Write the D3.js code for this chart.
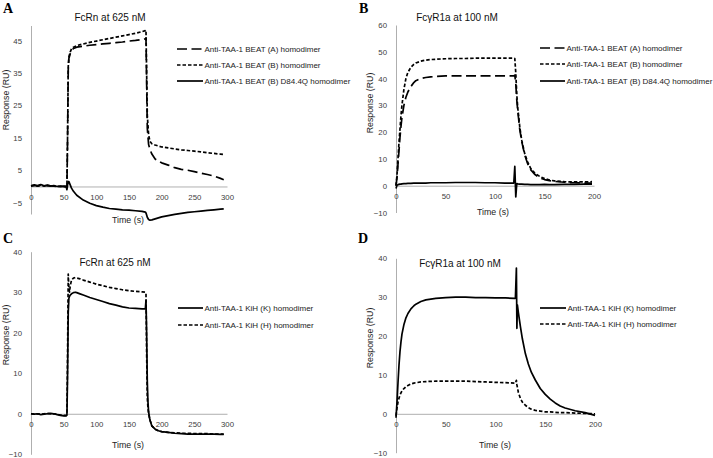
<!DOCTYPE html>
<html><head><meta charset="utf-8">
<script src="https://cdn.jsdelivr.net/npm/d3@7/dist/d3.min.js"></script>
<style>
body{margin:0;background:#fff;}
</style></head>
<body>
<svg id="chart" width="713" height="458"></svg>
<script>
// ---------- Panel A : FcRn at 625 nM (BEAT) ----------
const timeA = [0,5,10,15,20,25,30,35,40,45,50,54,55,56,57,58,60,62,65,70,80,90,100,110,120,130,140,150,160,170,175,176,177,178,180,182,185,190,195,200,210,220,230,240,250,260,270,280,290,295];
const beatA_FcRn = [0.2,0.3,0.1,0.4,0.1,0.3,0.2,0.1,0,0,0,0,0.3,15,36,39.5,41,42,42.6,43,43.3,43.6,43.8,44.0,44.2,44.4,44.6,44.9,45.1,45.4,45.6,45.8,32,18,13,11.5,10,8.5,7.8,7.3,6.6,5.8,5.3,5.0,4.6,4.1,3.7,3.2,2.5,2.1];
const beatB_FcRn = [0.2,0.3,0.1,0.4,0.1,0.3,0.2,0.1,0,0,0,0,0.3,16,37,40,41.5,42.5,43,43.5,44,44.5,44.9,45.3,45.7,46.1,46.5,46.9,47.3,47.8,48.1,48.3,35,22,16,14,13.2,12.8,12.5,12.2,11.9,11.6,11.3,11.1,10.9,10.7,10.4,10.2,10.0,9.9];
const beatBD_FcRn = [0.2,0.5,0.3,0.6,0.2,0.4,0.1,0.3,0,0,0,-0.2,-1,0.5,1.5,1.5,0.5,-0.5,-1.5,-2.7,-4.2,-5.2,-5.9,-6.4,-6.8,-7.0,-7.2,-7.3,-7.5,-7.7,-7.9,-8.2,-8.8,-9.5,-10.2,-10.4,-10.3,-10.0,-9.7,-9.4,-9.0,-8.6,-8.3,-8.0,-7.8,-7.6,-7.4,-7.2,-7.0,-6.9];
const yTicksA = [-5,5,15,25,35,45];
const xTicksA = [0,50,100,150,200,250,300];
const legendA = ["Anti-TAA-1 BEAT (A) homodimer","Anti-TAA-1 BEAT (B) homodimer","Anti-TAA-1 BEAT (B) D84.4Q homodimer"];

// ---------- Panel B : FcγR1a at 100 nM (BEAT) ----------
const timeB = [0,1,2,3,4,5,6,8,10,12,15,18,20,25,30,35,40,50,60,70,80,90,100,110,119,120,121,122,123,125,127,130,133,136,140,145,150,155,160,170,180,190,198];
const beatA_Fcg = [0,3,8,13,18,22,25.5,30,33,35,37,38.5,39.2,40,40.4,40.6,40.8,41,41,41,41,41,41,41,41,41.3,38,32,28,21,16.5,11.5,8.2,6,4.3,3,2.3,1.9,1.6,1.3,1.1,1.0,1.0];
const beatB_Fcg = [0,4,10,16,21,26,30,36,40,42.3,44.2,45.3,45.8,46.5,46.9,47.1,47.2,47.4,47.5,47.5,47.6,47.6,47.6,47.6,47.6,47.5,42,34,29,22,17,12,8.8,6.5,4.8,3.5,2.7,2.1,1.8,1.5,1.4,1.4,1.5];
const beatBD_Fcg = [-1,0.2,0.4,0.5,0.6,0.6,0.7,0.8,0.8,0.9,0.9,1.0,1.0,1.0,1.0,1.1,1.1,1.1,1.2,1.2,1.2,1.1,1.1,1.0,1.0,7.2,-4.2,0.8,0.7,0.6,0.6,0.5,0.5,0.4,0.4,0.4,0.5,0.4,0.4,0.5,0.5,0.6,0.6];
const yTicksB = [-10,0,10,20,30,40,50,60];
const xTicksB = [0,50,100,150,200];
const legendB = ["Anti-TAA-1  BEAT (A) homodimer","Anti-TAA-1  BEAT (B) homodimer","Anti-TAA-1  BEAT (B) D84.4Q homodimer"];

// ---------- Panel C : FcRn at 625 nM (KiH) ----------
const timeC = [0,5,10,15,20,25,30,35,40,45,50,54,55,56,57,58,59,60,62,65,68,70,75,80,90,100,110,120,130,140,150,160,170,175,176,177,178,179,180,182,185,190,195,200,210,220,230,240,250,260,270,280,290,295];
const kihK_FcRn = [0,-0.1,0,-0.2,-0.1,0,0.1,0,-0.2,-0.4,-0.5,-0.5,-0.3,10,25,28.5,29,29.3,29.6,29.9,30,29.9,29.6,29.3,28.7,28.2,27.7,27.2,26.8,26.4,26.1,26.0,25.9,25.9,28,20,8,3,0.5,-1.5,-3,-3.8,-4.2,-4.4,-4.6,-4.8,-4.9,-5,-5,-5,-5,-5,-5.1,-5.1];
const kihH_FcRn = [0,-0.1,0,-0.1,0,0.1,0,0,-0.1,-0.3,-0.4,-0.4,-0.2,15,34.5,31,30,31.5,33,33.5,33.6,33.5,33.3,33.0,32.5,32.0,31.6,31.2,30.9,30.6,30.4,30.2,30.1,30.0,29.8,15,4,1.5,0,-1.5,-3,-3.8,-4.2,-4.4,-4.6,-4.7,-4.8,-4.8,-4.9,-4.9,-4.9,-5,-5,-5];
const yTicksC = [-10,0,10,20,30,40];
const xTicksC = [0,50,100,150,200,250,300];
const legendC = ["Anti-TAA-1 KiH (K) homodimer","Anti-TAA-1 KiH (H) homodimer"];

// ---------- Panel D : FcγR1a at 100 nM (KiH) ----------
const timeD = [0,1,2,3,4,5,6,8,10,12,15,18,20,25,30,40,50,60,70,80,90,100,110,119,120,121,121.5,122,123,125,127,130,133,136,140,145,150,155,160,165,170,180,190,200];
const kihK_Fcg = [-1,3,8,12.5,16,18.5,20.5,23,24.7,25.8,27,27.8,28.2,28.9,29.3,29.7,29.9,30,30,29.9,29.9,29.8,29.8,29.7,29.7,37.5,22,28,26,22.5,19.3,15.5,12.8,10.7,8.7,6.5,5,3.8,2.8,2,1.5,0.8,0.3,-0.4];
const kihH_Fcg = [-0.5,1.5,3,4,4.8,5.4,5.9,6.5,7,7.3,7.7,7.9,8.0,8.2,8.3,8.4,8.4,8.4,8.4,8.3,8.2,8.1,8.0,7.9,7.9,8.6,7.5,6.8,5.5,4,3,2.2,1.6,1.2,0.9,0.7,0.5,0.5,0.4,0.3,0.3,0.2,0.1,0];
const yTicksD = [-10,0,10,20,30,40];
const xTicksD = [0,50,100,150,200];
const legendD = ["Anti-TAA-1 KiH (K) homodimer","Anti-TAA-1 KiH (H) homodimer"];

const LONG = "10,4.5", SHORT = "3.5,2", SOLID = null;
const SANS = "'Liberation Sans', Arial, sans-serif";
const SERIF = "'Liberation Serif', 'Times New Roman', serif";

const svg = d3.select("#chart");

function panel(cfg){
  const g = svg.append("g");
  const x = d3.scaleLinear().domain(cfg.xDom).range(cfg.xRange);
  const y = d3.scaleLinear().domain(cfg.yDom).range(cfg.yRange);
  // y axis
  const ya = g.append("g").attr("transform",`translate(${x(0)},0)`)
    .call(d3.axisLeft(y).tickValues(cfg.yTicks).tickSize(0).tickPadding(9).tickFormat(d3.format("d")));
  ya.select(".domain").attr("stroke","#9a9a9a").attr("stroke-width",0.8);
  ya.selectAll("text").style("font-family",SANS).attr("font-size",7.8).attr("fill","#404040");
  // x axis at y = 0
  const xa = g.append("g").attr("transform",`translate(0,${y(0)})`)
    .call(d3.axisBottom(x).tickValues(cfg.xTicks).tickSize(0).tickPadding(8));
  xa.select(".domain").attr("stroke","#9a9a9a").attr("stroke-width",0.8);
  xa.selectAll("text").style("font-family",SANS).attr("font-size",7.8).attr("fill","#404040");
  // series
  const line = d3.line().x((d,i)=>x(cfg.time[i])).y(d=>y(d));
  cfg.series.forEach(s=>{
    g.append("path").datum(s.values).attr("d",line).attr("fill","none")
      .attr("stroke","#000").attr("stroke-width",1.7)
      .attr("stroke-dasharray",s.dash).attr("stroke-linejoin","round");
  });
  // titles
  g.append("text").attr("x",cfg.title[0]).attr("y",cfg.title[1]).attr("text-anchor","middle")
    .attr("dominant-baseline","central").style("font-family",SANS).attr("font-size",10).attr("fill","#111").text(cfg.titleText);
  g.append("text").attr("transform",`translate(${cfg.yTitle[0]},${cfg.yTitle[1]}) rotate(-90)`)
    .attr("text-anchor","middle").attr("dominant-baseline","central").style("font-family",SANS).attr("font-size",8.8).attr("fill","#222").text("Response (RU)");
  g.append("text").attr("x",cfg.xTitle[0]).attr("y",cfg.xTitle[1]).attr("text-anchor","middle")
    .attr("dominant-baseline","central").style("font-family",SANS).attr("font-size",8.8).attr("fill","#222").text("Time (s)");
  g.append("text").attr("x",cfg.letter[0]).attr("y",cfg.letter[1]).attr("font-size",14).attr("font-weight","bold")
    .style("font-family",SERIF).attr("fill","#000").text(cfg.letterText);
  // legend
  cfg.series.forEach((s,i)=>{
    const ly = cfg.legY[i];
    g.append("line").attr("x1",cfg.legX[0]).attr("x2",cfg.legX[1]).attr("y1",ly).attr("y2",ly)
      .attr("stroke","#000").attr("stroke-width",1.7).attr("stroke-dasharray",s.dash);
    g.append("text").attr("x",cfg.legX[1]+1.5).attr("y",ly).attr("dominant-baseline","central")
      .style("font-family",SANS).attr("font-size",8).attr("fill","#222").text(s.name);
  });
}

panel({xDom:[0,300], xRange:[31,227], yDom:[-8.5,49.7], yRange:[214,25.5],
  yTicks:yTicksA, xTicks:xTicksA, time:timeA,
  series:[{values:beatA_FcRn,dash:LONG,name:legendA[0]},{values:beatB_FcRn,dash:SHORT,name:legendA[1]},{values:beatBD_FcRn,dash:SOLID,name:legendA[2]}],
  title:[110,17], titleText:"FcRn at 625 nM", yTitle:[6,100], xTitle:[128,220], letter:[3,13], letterText:"A",
  legX:[177,203], legY:[49,65,81]});

panel({xDom:[0,200], xRange:[396,594], yDom:[-10,60], yRange:[212.5,25],
  yTicks:yTicksB, xTicks:xTicksB, time:timeB,
  series:[{values:beatA_Fcg,dash:LONG,name:legendB[0]},{values:beatB_Fcg,dash:SHORT,name:legendB[1]},{values:beatBD_Fcg,dash:SOLID,name:legendB[2]}],
  title:[457,17], titleText:"FcγR1a at 100 nM", yTitle:[370,103], xTitle:[493,212], letter:[359,13], letterText:"B",
  legX:[540,565], legY:[48,64,81]});

panel({xDom:[0,300], xRange:[31,227], yDom:[-10,40], yRange:[454.3,251.7],
  yTicks:yTicksC, xTicks:xTicksC, time:timeC,
  series:[{values:kihK_FcRn,dash:SOLID,name:legendC[0]},{values:kihH_FcRn,dash:SHORT,name:legendC[1]}],
  title:[115,262], titleText:"FcRn at 625 nM", yTitle:[6,335], xTitle:[128,445], letter:[3,243], letterText:"C",
  legX:[178,203], legY:[308,325]});

panel({xDom:[0,200], xRange:[396,595], yDom:[-10,40], yRange:[452.7,258.3],
  yTicks:yTicksD, xTicks:xTicksD, time:timeD,
  series:[{values:kihK_Fcg,dash:SOLID,name:legendD[0]},{values:kihH_Fcg,dash:SHORT,name:legendD[1]}],
  title:[460,263], titleText:"FcγR1a at 100 nM", yTitle:[370,338], xTitle:[495,445], letter:[358,243], letterText:"D",
  legX:[540,566], legY:[308,324]});
</script>
</body></html>
